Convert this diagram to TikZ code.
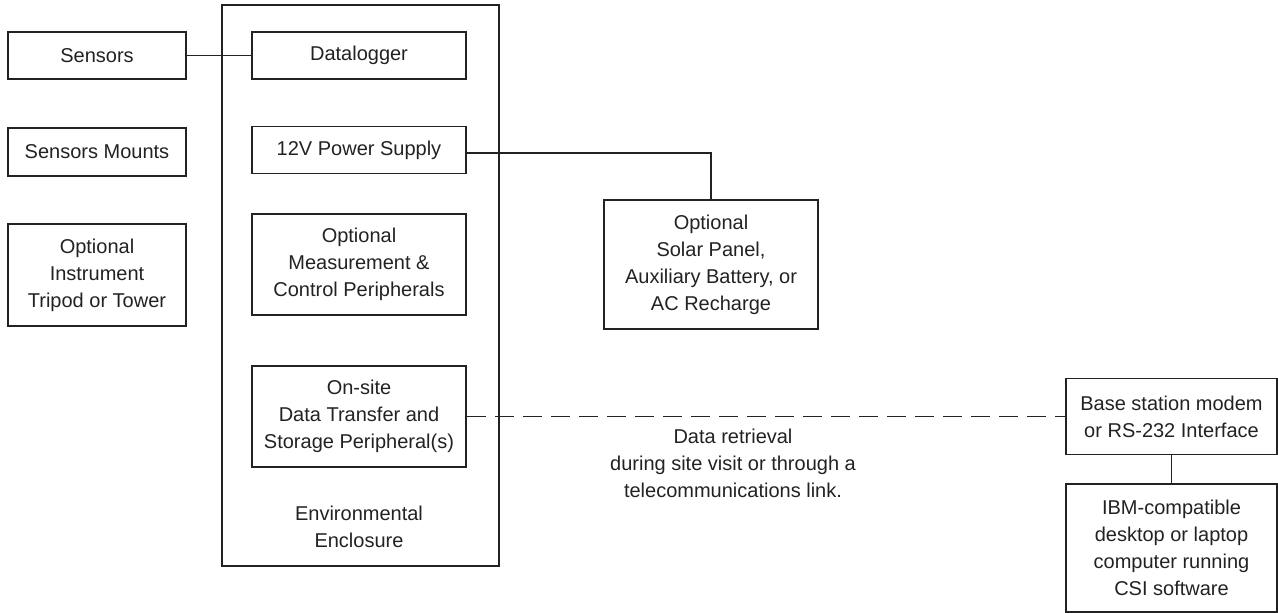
\documentclass[tikz,border=0pt]{standalone}
\usepackage{fontspec}
\setmainfont{Liberation Sans}
\definecolor{ink}{HTML}{222222}
\begin{document}
\begin{tikzpicture}[x=1pt,y=-1pt,
  box/.style={draw=ink,line width=1.6pt,rectangle,inner sep=0pt,align=center,text=ink,
    font=\fontsize{20}{27}\selectfont},
  lbl/.style={inner sep=0pt,align=center,text=ink,font=\fontsize{20}{27}\selectfont},
  wire/.style={draw=ink,line width=1.6pt},
  dashwire/.style={draw=ink,line width=1.6pt,dash pattern=on 19pt off 9pt}]
\useasboundingbox (0,0) rectangle (1278,613);
\node[box,minimum width=277pt,minimum height=561pt] (encl) at (360.5,285.5) {};
\node[lbl] (encllbl) at (359,527) {Environmental\\Enclosure};
\node[box,minimum width=178pt,minimum height=47pt] (sens) at (97,55.5) {Sensors};
\node[box,minimum width=178pt,minimum height=48pt] (mount) at (97,152) {Sensors Mounts};
\node[box,minimum width=178pt,minimum height=102pt] (tripod) at (97,275) {Optional\\Instrument\\Tripod or Tower};
\node[box,minimum width=214pt,minimum height=47pt] (dl) at (359,55.5) {Datalogger};
\node[box,minimum width=214pt,minimum height=47pt] (ps) at (359,150) {12V Power Supply};
\node[box,minimum width=214pt,minimum height=101pt] (meas) at (359,264.5) {Optional\\Measurement \&\\Control Peripherals};
\node[box,minimum width=214pt,minimum height=101pt] (onsite) at (359,416.5) {On-site\\Data Transfer and\\Storage Peripheral(s)};
\node[box,minimum width=214pt,minimum height=129pt] (solar) at (711,264.5) {Optional\\Solar Panel,\\Auxiliary Battery, or\\AC Recharge};
\node[box,minimum width=211pt,minimum height=76pt] (base) at (1171.5,416.5) {Base station modem\\or RS-232 Interface};
\node[box,minimum width=211pt,minimum height=128pt] (ibm) at (1171.5,548) {IBM-compatible\\desktop or laptop\\computer running\\CSI software};
\node[lbl] (retr) at (733,463) {Data retrieval\\during site visit or through a\\telecommunications link.};
\draw[wire] (sens.east) -- (dl.west);
\draw[wire] ([yshift=-3pt]ps.east) -| (solar.north);
\draw[dashwire] (onsite.east) -- (base.west);
\draw[wire] (base.south) -- (ibm.north);
\end{tikzpicture}
\end{document}
